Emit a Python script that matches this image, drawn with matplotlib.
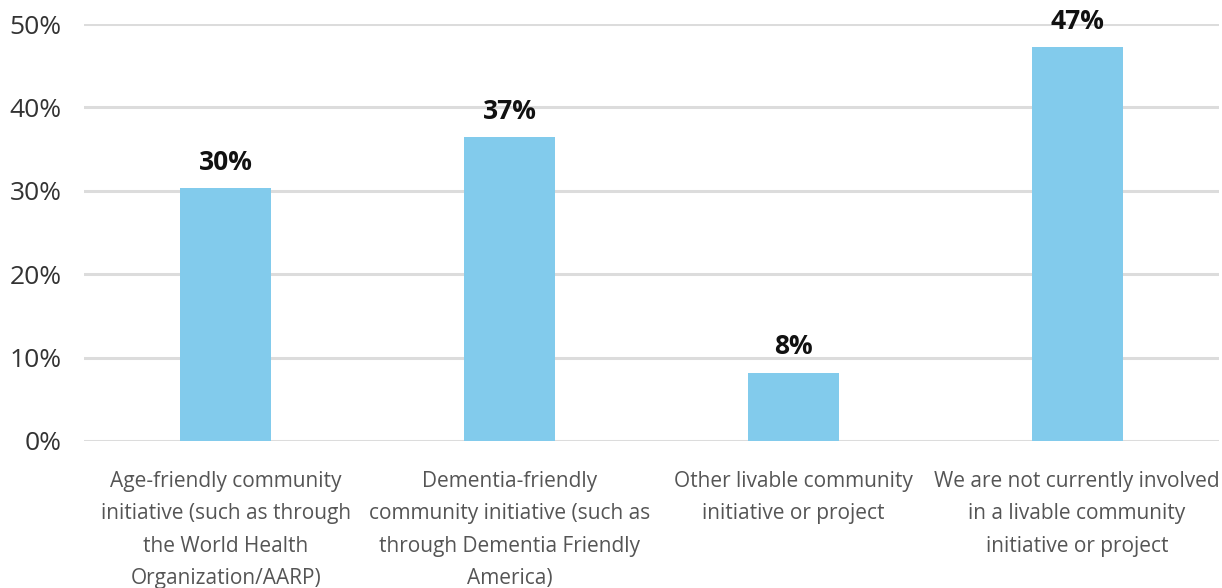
import matplotlib.pyplot as plt

categories = [
    "Age-friendly community\ninitiative (such as through\nthe World Health\nOrganization/AARP)",
    "Dementia-friendly\ncommunity initiative (such as\nthrough Dementia Friendly\nAmerica)",
    "Other livable community\ninitiative or project",
    "We are not currently involved\nin a livable community\ninitiative or project",
]
values = [30.3, 36.4, 8.2, 47.2]
labels = ["30%", "37%", "8%", "47%"]
yticks = [0, 10, 20, 30, 40, 50]

plt.rcParams["font.family"] = ["Open Sans", "DejaVu Sans"]

fig = plt.figure(figsize=(12.22, 5.88), dpi=100)
ax = fig.add_axes([84 / 1222, 1 - 441 / 588, 1135 / 1222, 417 / 588])

x = range(len(categories))
ax.bar(x, values, width=0.32, color="#82CBEC", zorder=3)

for i, (v, lab) in enumerate(zip(values, labels)):
    ax.text(i, v + 3.1, lab, ha="center", va="center", fontsize=19,
            fontweight="bold", color="#111111", clip_on=False)

ax.set_xlim(-0.5, 3.5)
ax.set_ylim(0, 50)
ax.set_yticks(yticks)
ax.set_yticklabels([f"{t}%" for t in yticks], fontsize=19, color="#333333")
ax.set_xticks(list(x))
ax.set_xticklabels(categories, fontsize=15, color="#555555", linespacing=1.72,
                   va="top")
ax.tick_params(axis="both", length=0)
ax.tick_params(axis="y", pad=16)
ax.tick_params(axis="x", pad=21.5)
ax.grid(axis="y", color="#DCDCDC", linewidth=2.2, zorder=0)
for s in ax.spines.values():
    s.set_visible(False)

fig.savefig("out.png", dpi=100)
